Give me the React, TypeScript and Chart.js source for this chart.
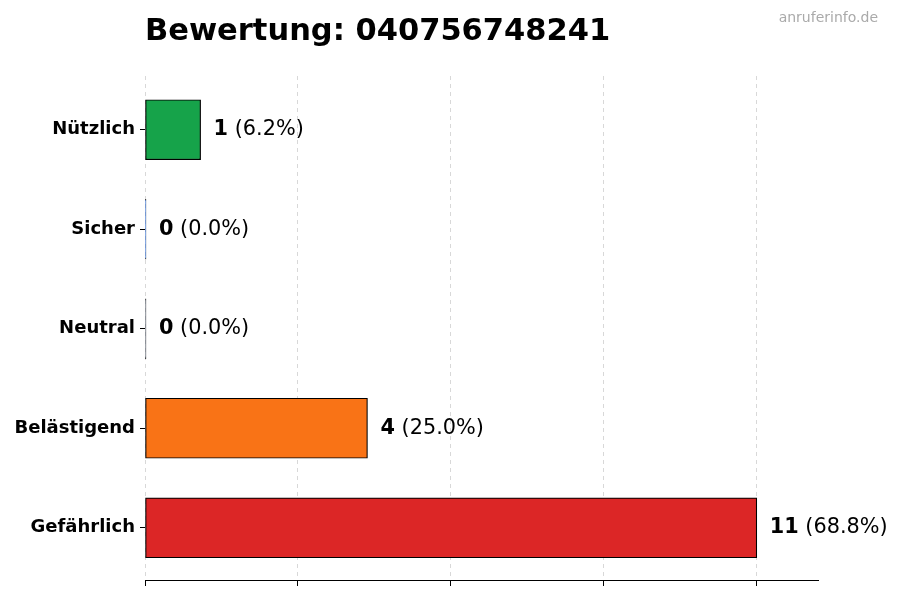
import { useEffect, useRef } from "react";
import { Chart, registerables } from "chart.js";

Chart.register(...registerables);

const categories = ["Nützlich", "Sicher", "Neutral", "Belästigend", "Gefährlich"];
const counts = [1, 0, 0, 4, 11];
const shares = [6.2, 0.0, 0.0, 25.0, 68.8];
const barColors = ["#16a34a", "#3b82f6", "#6b7280", "#f97316", "#dc2626"];
const xTicks = [0, 2.75, 5.5, 8.25, 11];
const xMax = 12.1;

const FONT = "'DejaVu Sans', sans-serif";

const labelsPlugin = {
  id: "valueLabels",
  afterDraw(chart: Chart) {
    const ctx = chart.ctx;
    const meta = chart.getDatasetMeta(0);
    ctx.save();
    ctx.textBaseline = "middle";
    ctx.fillStyle = "#000";
    meta.data.forEach((bar: any, i: number) => {
      const x = bar.x + 13;
      const y = bar.y;
      const bold = `${counts[i]}`;
      ctx.font = `bold 20.8px ${FONT}`;
      ctx.fillText(bold, x, y);
      const w = ctx.measureText(bold).width;
      ctx.font = `20.8px ${FONT}`;
      ctx.fillText(` (${shares[i].toFixed(1)}%)`, x + w, y);
    });

    // title + source
    ctx.textBaseline = "alphabetic";
    ctx.font = `bold 30.5px ${FONT}`;
    ctx.fillText("Bewertung: 040756748241", 145, 40);
    ctx.font = `14px ${FONT}`;
    ctx.fillStyle = "#aaaaaa";
    ctx.textAlign = "right";
    ctx.fillText("anruferinfo.de", 878, 22);
    ctx.restore();
  },
};

export default function App() {
  const canvasRef = useRef<HTMLCanvasElement>(null);

  useEffect(() => {
    if (!canvasRef.current) return;
    const chart = new Chart(canvasRef.current, {
      type: "bar",
      data: {
        datasets: [
          {
            data: counts.map((c, i) => ({ x: c, y: i })),
            backgroundColor: barColors,
            borderColor: "#000",
            borderWidth: 1.2,
            borderSkipped: false,
            minBarLength: 1,
            barThickness: 60,
          },
        ],
      },
      options: {
        indexAxis: "y",
        responsive: false,
        animation: false,
        layout: { padding: { top: 76, right: 82, left: 0, bottom: 0 } },
        plugins: {
          legend: { display: false },
          tooltip: { enabled: false },
          title: { display: false },
        },
        scales: {
          x: {
            type: "linear",
            min: 0,
            max: xMax,
            z: 1,
            afterBuildTicks: (scale: any) => {
              scale.ticks = xTicks.map((v) => ({ value: v }));
            },
            afterFit: (scale: any) => {
              scale.height = 20;
            },
            ticks: { display: false },
            grid: {
              color: "rgba(190,190,190,0.6)",
              lineWidth: 1,
              tickColor: "#000",
              tickLength: 6,
              tickBorderDash: [],
            },
            border: { display: true, color: "#000", width: 1, dash: [4, 4] },
          },
          y: {
            type: "linear",
            reverse: true,
            offset: false,
            min: -0.54,
            max: categories.length - 1 + 0.525,
            afterBuildTicks: (scale: any) => {
              scale.ticks = categories.map((_, i) => ({ value: i }));
            },
            afterFit: (scale: any) => {
              scale.width = 145;
            },
            ticks: {
              color: "#000",
              padding: 5,
              font: { family: FONT, size: 18, weight: "bold" },
              callback: (v: any) => categories[v] ?? "",
            },
            grid: {
              offset: false,
              drawOnChartArea: false,
              color: "#000",
              tickLength: 5,
            },
            border: { display: false },
          },
        },
      },
      plugins: [labelsPlugin],
    });
    return () => chart.destroy();
  }, []);

  return (
    <div style={{ position: "fixed", left: 0, top: 0, width: 900, height: 600, background: "#fff" }}>
      <canvas ref={canvasRef} width={900} height={600} />
    </div>
  );
}
